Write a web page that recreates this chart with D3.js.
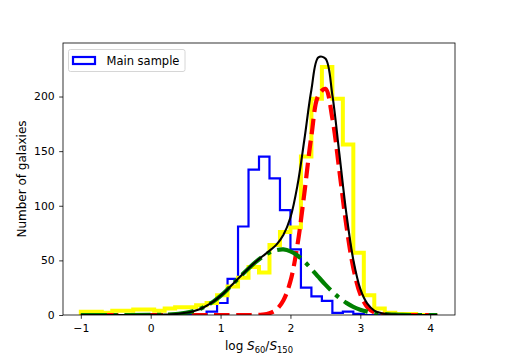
<!DOCTYPE html>
<html>
<head>
<meta charset="utf-8">
<script src="https://cdn.jsdelivr.net/npm/d3@7"></script>
<style>
  body { margin: 0; background: #fff; }
  svg { display: block; font-family: "DejaVu Sans", sans-serif; }
</style>
</head>
<body>
<svg id="chart" width="505" height="360"></svg>
<script>
// bin edges of both histograms (width 0.15)
const binEdges = [-1.0, -0.85, -0.7, -0.55, -0.4, -0.25, -0.1, 0.05, 0.2, 0.35, 0.5, 0.65,
  0.8, 0.95, 1.1, 1.25, 1.4, 1.55, 1.7, 1.85, 2.0, 2.15, 2.3, 2.45, 2.6, 2.75, 2.9,
  3.05, 3.2, 3.35, 3.5, 3.65, 3.8, 3.95, 4.1];

// main sample (blue)
const mainCounts = [0, 0, 0, 0, 0, 0, 0, 0, 0, 0, 0, 0,
  3, 11, 33, 81, 133, 145, 125, 96, 60, 25, 17, 13, 2, 3, 1,
  0, 0, 0, 0, 0, 0, 0];

// second sample (yellow)
const otherCounts = [3, 3, 2, 4, 4, 5, 5, 4, 6, 7, 7, 9,
  11, 18, 26, 34, 44, 39, 64, 76, 80, 145, 198, 227, 198, 156, 57,
  18, 6, 2, 1, 1, 0, 0];

// fitted components
const curveX = [-1.0, -0.5, 0.0, 0.1, 0.2, 0.3, 0.4, 0.5, 0.6, 0.7, 0.8, 0.9, 1.0, 1.1, 1.2,
  1.3, 1.4, 1.5, 1.6, 1.7, 1.8, 1.9, 2.0, 2.1, 2.2, 2.3, 2.4, 2.5, 2.6, 2.7, 2.8, 2.9,
  3.0, 3.1, 3.2, 3.3, 3.4, 3.5, 3.6, 3.8, 4.1];
const warmComp = [0, 0, 0.1, 0.2, 0.3, 0.6, 1.1, 2.0, 3.3, 5.3, 8.5, 12.5, 17.5, 23.5, 30,
  36.4, 42.6, 48.4, 53.4, 57.2, 59.4, 60, 58.3, 54.5, 48.9, 42.2, 34.9, 27.8, 21.3, 15.7, 11.1, 7.5,
  4.9, 3.1, 1.8, 1.1, 0.6, 0.3, 0.1, 0, 0];
const coldComp = [0, 0, 0, 0, 0, 0, 0, 0, 0, 0, 0, 0, 0, 0, 0,
  0, 0, 0.1, 0.4, 1.6, 5, 13.5, 31, 64, 112, 164, 201, 207, 180, 132, 82, 43,
  19, 7.3, 2.3, 0.6, 0.1, 0, 0, 0, 0];
const totalFit = [0, 0, 0.1, 0.2, 0.3, 0.6, 1.1, 2.0, 3.3, 5.3, 8.5, 12.5, 17.5, 23.5, 30,
  36.4, 42.6, 48.5, 53.8, 58.8, 64.4, 73.5, 89.3, 118.5, 160.9, 206.2, 235.9, 234.8, 201.3, 147.7, 93.1, 50.5,
  23.9, 10.4, 4.1, 1.7, 0.7, 0.3, 0.1, 0, 0];

const xTicks = [-1, 0, 1, 2, 3, 4];
const yTicks = [0, 50, 100, 150, 200];

const width = 505;
const height = 360;
const margin = { top: 43, left: 63, bottom: 45, right: 50 };
const iwidth = width - margin.left - margin.right;
const iheight = height - margin.top - margin.bottom;

const svg = d3.select("#chart");
const g = svg.append("g").attr("transform", `translate(${margin.left},${margin.top})`);

const x = d3.scaleLinear().domain([-1.255, 4.355]).range([0, iwidth]);
const y = d3.scaleLinear().domain([0, 249]).range([iheight, 0]);

svg.append("clipPath").attr("id", "plotclip")
  .append("rect").attr("width", iwidth).attr("height", iheight);

const plot = g.append("g").attr("clip-path", "url(#plotclip)");

function stepPoints(edges, counts) {
  const pts = [[edges[0], 0]];
  counts.forEach((c, i) => {
    pts.push([edges[i], c]);
    pts.push([edges[i + 1], c]);
  });
  pts.push([edges[edges.length - 1], 0]);
  return pts;
}

const stepLine = d3.line().x(d => x(d[0])).y(d => y(d[1]));

plot.append("path")
  .attr("d", stepLine(stepPoints(binEdges, mainCounts)))
  .attr("fill", "none").attr("stroke", "#0000ff").attr("stroke-width", 2.2);

plot.append("path")
  .attr("d", stepLine(stepPoints(binEdges, otherCounts)))
  .attr("fill", "none").attr("stroke", "#ffff00").attr("stroke-width", 4);

const fitLine = vals => d3.line()
  .x((d, i) => x(curveX[i]))
  .y(d => y(d))
  .curve(d3.curveCatmullRom.alpha(0.5))(vals);

plot.append("path").attr("d", fitLine(coldComp))
  .attr("fill", "none").attr("stroke", "#ff0000").attr("stroke-width", 4.2)
  .attr("stroke-dasharray", "15.5,6.7");

plot.append("path").attr("d", fitLine(warmComp))
  .attr("fill", "none").attr("stroke", "#008000").attr("stroke-width", 4.2)
  .attr("stroke-dasharray", "26,6.7,4.2,6.7");

plot.append("path").attr("d", fitLine(totalFit))
  .attr("fill", "none").attr("stroke", "#000000").attr("stroke-width", 2.1);

// axes
const xAxis = g.append("g")
  .attr("transform", `translate(0,${iheight})`)
  .call(d3.axisBottom(x).tickValues(xTicks).tickSize(3.8).tickPadding(5.5).tickFormat(d3.format("d")));
const yAxis = g.append("g")
  .call(d3.axisLeft(y).tickValues(yTicks).tickSize(3.8).tickPadding(4.5));

[xAxis, yAxis].forEach(a => {
  a.select(".domain").remove();
  a.selectAll("line").attr("stroke", "#000").attr("stroke-width", 0.8);
  a.selectAll("text").attr("font-size", 10.8).attr("fill", "#000")
    .attr("font-family", "DejaVu Sans");
});

g.append("rect").attr("width", iwidth).attr("height", iheight)
  .attr("fill", "none").attr("stroke", "#000").attr("stroke-width", 0.8);

// axis labels
const xl = svg.append("text")
  .attr("x", margin.left + iwidth / 2).attr("y", 350)
  .attr("text-anchor", "middle").attr("font-size", 12);
xl.append("tspan").text("log ");
xl.append("tspan").attr("font-style", "italic").text("S");
xl.append("tspan").attr("font-size", 8.4).attr("dy", 2.6).text("60");
xl.append("tspan").attr("dy", -2.6).text("/");
xl.append("tspan").attr("font-style", "italic").text("S");
xl.append("tspan").attr("font-size", 8.4).attr("dy", 2.6).text("150");

svg.append("text")
  .attr("transform", `translate(25.5,${margin.top + iheight / 2}) rotate(-90)`)
  .attr("text-anchor", "middle").attr("font-size", 12)
  .text("Number of galaxies");

// legend
const leg = svg.append("g").attr("transform", "translate(68.5,49.5)");
leg.append("rect").attr("width", 116.5).attr("height", 22).attr("rx", 2)
  .attr("fill", "#fff").attr("fill-opacity", 0.8)
  .attr("stroke", "#cccccc").attr("stroke-width", 0.8);
leg.append("rect").attr("x", 4.5).attr("y", 7.5).attr("width", 22).attr("height", 7)
  .attr("fill", "none").attr("stroke", "#0000ff").attr("stroke-width", 2.2);
leg.append("text").attr("x", 38).attr("y", 15.5)
  .attr("font-size", 11.5).text("Main sample");
</script>
</body>
</html>
